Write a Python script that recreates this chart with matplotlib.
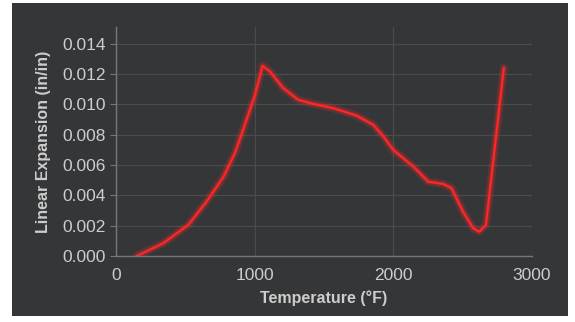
import matplotlib
matplotlib.use("Agg")
import matplotlib.pyplot as plt
from matplotlib.patches import Rectangle

temp = [150, 341, 521, 654, 774, 858, 942, 1002, 1057, 1110, 1206, 1314, 1423, 1567,
        1735, 1855, 1927, 1999, 2144, 2252, 2360, 2420, 2504, 2576, 2620, 2668, 2732, 2797]
expan = [0.0000, 0.00084, 0.00205, 0.0036, 0.0052, 0.0068, 0.0090, 0.0106, 0.01254, 0.01217,
         0.01107, 0.0103, 0.01003, 0.00975, 0.00926, 0.00865, 0.0079, 0.0070, 0.0059, 0.0049,
         0.00475, 0.00447, 0.0029, 0.00183, 0.0016, 0.00205, 0.0072, 0.0124]
yticks = [0.000, 0.002, 0.004, 0.006, 0.008, 0.010, 0.012, 0.014]
xticks = [0, 1000, 2000, 3000]

plt.rcParams['font.family'] = ['Liberation Sans', 'DejaVu Sans']
bg = '#353638'
txt = '#cdcdcd'

fig = plt.figure(figsize=(5.75, 3.22), dpi=100, facecolor='white')
fig.patches.append(Rectangle((12/575, 6/322), 556/575, 313/322, transform=fig.transFigure,
                             facecolor=bg, edgecolor='none', zorder=-5))
ax = fig.add_axes((116/575, 1-256/322, 416/575, 229/322))
ax.set_zorder(2)
ax.set_facecolor(bg)

# glow under the red line
ax.plot(temp, expan, color='#ff2a2a', linewidth=6, alpha=0.18, solid_capstyle='round')
ax.plot(temp, expan, color='#ff2a2a', linewidth=3.5, alpha=0.25, solid_capstyle='round')
ax.plot(temp, expan, color='#ff2626', linewidth=1.6, solid_capstyle='round')

ax.set_xlim(0, 3000)
ax.set_ylim(0, 0.0151)
ax.set_xticks(xticks)
ax.set_yticks(yticks)
ax.set_yticklabels(['%.3f' % v for v in yticks])
ax.grid(True, color='#4a4b4e', linewidth=0.9)
ax.set_axisbelow(True)
for s in ['top', 'right']:
    ax.spines[s].set_visible(False)
for s in ['left', 'bottom']:
    ax.spines[s].set_color('#76777a')
    ax.spines[s].set_linewidth(1.0)
ax.tick_params(colors=txt, labelsize=12.5, length=4, color='#76777a')
ax.tick_params(axis='x', length=0, pad=9)
ax.set_xlabel('Temperature (°F)', color=txt, fontsize=11.5, fontweight='bold', labelpad=5)
ax.set_ylabel('Linear Expansion (in/in)', color=txt, fontsize=11.5, fontweight='bold', labelpad=8)

fig.savefig('out.png', dpi=100, facecolor='white')
